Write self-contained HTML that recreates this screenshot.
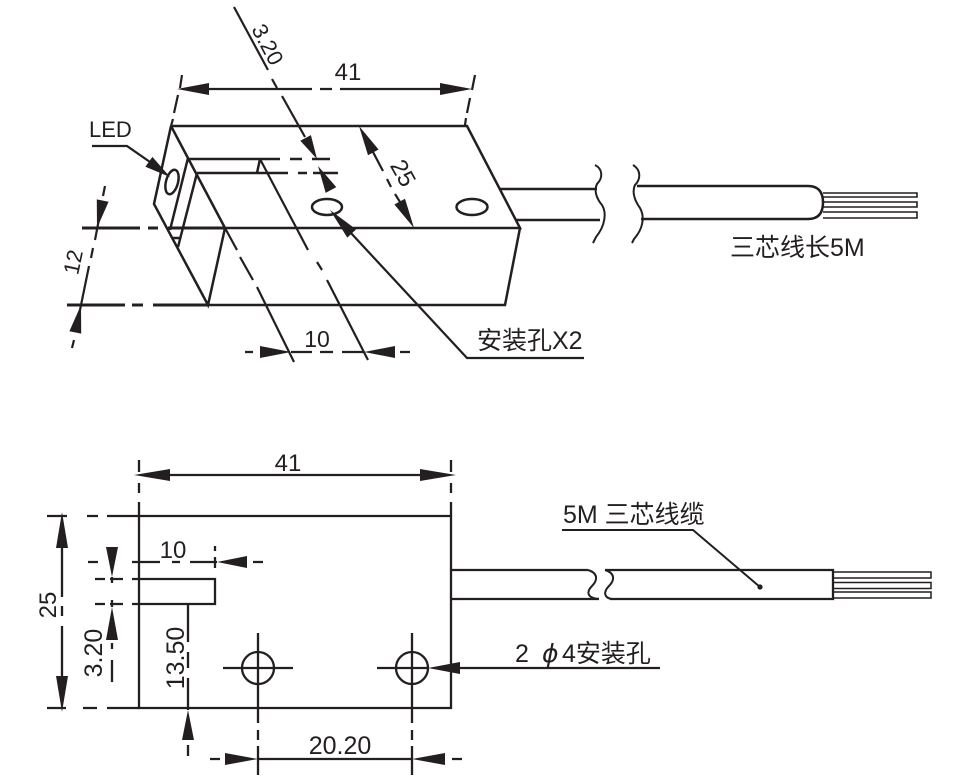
<!DOCTYPE html>
<html><head><meta charset="utf-8"><style>
html,body{margin:0;padding:0;background:#fff;}
svg{display:block;}
text{font-family:"Liberation Sans","Noto Sans CJK SC",sans-serif;fill:#231f20;}
</style></head><body>
<svg width="959" height="780" viewBox="0 0 959 780" xmlns="http://www.w3.org/2000/svg">
<rect x="0" y="0" width="959" height="780" fill="#fff"/>
<g stroke="#231f20" stroke-width="2.5" fill="none" stroke-linecap="butt" stroke-linejoin="miter">
  <!-- ===== TOP OBLIQUE VIEW ===== -->
  <!-- box outline -->
  <path d="M171,126 L467,126 L520,228 L225,228"/>
  <path d="M171,126 L225,228"/>
  <path d="M171,126 L154,204 L208,305 L225,228"/>
  <path d="M208,305 L505,305 L520,228"/>
  <!-- 12 extension lines -->
  <path d="M82,228 L140,228 M148,228 L158,228 M168,228 L225,228" stroke-width="3"/>
  <path d="M67,305 L125,305 M132,305 L143,305 M153,305 L208,305" stroke-width="3"/>
  <!-- notch in end face -->
  <path d="M188,158 L170,230 M197,173 L178,247 M173,238 L180,238"/>
  <!-- slot lines -->
  <path d="M188,159 L280,159 M290,159 L302,159 M312,159 L330,159"/>
  <path d="M197,173 L288,173 M298,173 L307,173 M313,173 L338,173"/>
  <path d="M260,159 L257,173"/>
  <!-- slanted center/extension lines -->
  <path d="M260,159 L308,250 M317,262 L322,270 M327,280 L368,360" stroke-width="2.2"/>
  <path d="M225,228 L237,250 M240,257 L253,280 M257,287 L294,362" stroke-width="2.2"/>
  <!-- LED -->
  <ellipse cx="172" cy="182" rx="6" ry="12.5" transform="rotate(15 172 182)"/>
  <!-- holes -->
  <ellipse cx="327" cy="207" rx="15" ry="8"/>
  <ellipse cx="472" cy="207" rx="15.5" ry="8"/>
  <!-- 41 dim top -->
  <path d="M209,89 L312,89 M320,89 L332,89 M340,89 L440,89" stroke-width="2.2"/>
  <path d="M182,75 L180,88 M178,95 L174,113 M173,119 L171,126" stroke-width="2.2"/>
  <path d="M475,75 L472,90 M470,98 L467,113 M466,118 L465,125" stroke-width="2.2"/>
  <!-- 3.20 dim top -->
  <path d="M234,7 L268,70 M272,79 L277,88 M282,96 L305,137" stroke-width="2.2"/>
  <!-- 25 dim -->
  <path d="M373,152 L383,171 M387,179 L391,187 M395,194 L400,202" stroke-width="2.2"/>
  <!-- 12 dim -->
  <path d="M105,186 L103,196 M102.5,201 L95,240 M93,248 L91,258 M89,266 L75.5,332 M74,340 L72,348" stroke-width="2.2"/>
  <!-- 10 dim top -->
  <path d="M245,352 L253,352 M291,352 L312,352 M320,352 L333,352 M342,352 L364,352 M400,352 L410,352" stroke-width="2.2"/>
  <!-- LED leader -->
  <path d="M92,146 L127,146 L150,162" stroke-width="2.2"/>
  <!-- mounting hole leader -->
  <path d="M584,358 L467,358 L350,232" stroke-width="2.2"/>
  <!-- cable (top) -->
  <path d="M500,189 L597,189 M515,220 L600,220"/>
  <path d="M595,165 C603,169 603,178 597,184 C594,190 596,198 602,205 C607,213 605,226 596,237 L593,243" stroke-width="2"/>
  <path d="M633,165 C641,170 641,179 635,185 C632,191 634,200 640,208 C645,217 643,229 634,239 L632,243" stroke-width="2"/>
  <path d="M637,186 L808,186 Q823,186 823,202.5 Q823,219 808,219 L641,219"/>
  <path d="M823,193 L917,193 L917,197 L823,197 M823,202 L917,202 L917,207 L823,207 M823,212 L917,212 L917,218 L823,218" stroke-width="1.6"/>

  <!-- ===== BOTTOM TOP-VIEW ===== -->
  <path d="M139,516 L451,516 L451,708 L139,708 Z" stroke-width="2.3"/>
  <path d="M47,516 L67,516 M87,516 L98,516 M107,516 L139,516" stroke-width="2.3"/>
  <path d="M47,708 L66,708 M83,708 L97,708 M107,708 L139,708" stroke-width="2.3"/>
  <path d="M139,460 L139,472 M139,483 L139,493 M139,502 L139,516" stroke-width="2.3"/>
  <path d="M451,460 L451,472 M451,483 L451,493 M451,502 L451,516" stroke-width="2.3"/>
  <!-- 41 dim -->
  <path d="M170,475 L420,475" stroke-width="2.3"/>
  <!-- 25 dim -->
  <path d="M62,548 L62,597 M62,606 L62,616 M62,626 L62,676" stroke-width="2.3"/>
  <!-- slot -->
  <path d="M132,579 L215,579 L215,604 L132,604" stroke-width="2.3"/>
  <path d="M95,579 L105,579 M110,579 L123,579 M95,604 L105,604 M110,604 L123,604" stroke-width="2.3"/>
  <!-- 10 dim -->
  <path d="M88,562 L98,562 M132,562 L160,562 M172,562 L180,562 M190,562 L217,562 M253,562 L263,562" stroke-width="2.3"/>
  <path d="M215,546 L215,551 M215,557 L215,568" stroke-width="2.3"/>
  <!-- 3.20 dim -->
  <path d="M112,577 L112,583 M112,600 L112,607 M112,643 L112,649 M112,660 L112,682" stroke-width="2.3"/>
  <!-- 13.50 dim -->
  <path d="M188,604 L188,642 M188,652 L188,668 M188,678 L188,710 M188,745 L188,756" stroke-width="2.3"/>
  <!-- holes -->
  <circle cx="258" cy="668" r="16" stroke-width="2.3"/>
  <circle cx="412" cy="668" r="16" stroke-width="2.3"/>
  <path d="M223,668 L293,668 M258,633 L258,723 M258,730 L258,740 M258,746 L258,775" stroke-width="2.3"/>
  <path d="M377,668 L428,668 M412,633 L412,723 M412,730 L412,740 M412,746 L412,775" stroke-width="2.3"/>
  <path d="M460,668 L660,668" stroke-width="2.3"/>
  <!-- 20.20 dim -->
  <path d="M210,759 L220,759 M258,759 L412,759 M452,759 L462,759" stroke-width="2.3"/>
  <!-- cable bottom -->
  <path d="M451,570 L588,570 M451,599 L599,599" stroke-width="2.3"/>
  <path d="M588,570 C598,573 598,580 592,586 C586,592 587,598 599,599" stroke-width="2"/>
  <path d="M605,570 C615,573 615,580 609,586 C603,592 604,598 612,599" stroke-width="2"/>
  <path d="M605,570 L833,570 L833,599 L610,599" stroke-width="2.3"/>
  <path d="M833,572 L931,572 L931,578 L833,578 M833,582.5 L931,582.5 L931,588.5 L833,588.5 M833,592 L931,592 L931,598 L833,598" stroke-width="1.5"/>
  <!-- cable leader -->
  <path d="M562,530 L693,530 L760,587" stroke-width="2"/>
</g>

<!-- arrowheads -->
<g fill="#231f20" stroke="none">
  <polygon points="177,89 209,83 209,95"/>
  <polygon points="472,89 440,83 440,95"/>
  <polygon points="317,159 310.9,135.1 300.3,140.7"/>
  <polygon points="318,166 336.3,187.1 325.7,192.9"/>
  <polygon points="359,126 378.6,149.5 368,155.3"/>
  <polygon points="414,228 405,198.7 394.4,204.5"/>
  <polygon points="97,228 108.6,201.8 96.8,199.4"/>
  <polygon points="81,305 81.2,333.6 69.4,331.2"/>
  <polygon points="291,352 260,346 260,358"/>
  <polygon points="364,352 395,346 395,358"/>
  <polygon points="170,177 145.4,166.7 152.4,156.9"/>
  <polygon points="330,210 356.1,229.4 347.3,237.6"/>

  <polygon points="134,475 170,469 170,481"/>
  <polygon points="456,475 420,469 420,481"/>
  <polygon points="62,512 56,548 68,548"/>
  <polygon points="62,712 56,676 68,676"/>
  <polygon points="112,577 106,547 118,547"/>
  <polygon points="112,607 106,640 118,640"/>
  <polygon points="217,562 247,556 247,568"/>
  <polygon points="188,710 182,740 194,740"/>
  <polygon points="258,759 225,753 225,765"/>
  <polygon points="412,759 445,753 445,765"/>
  <polygon points="428,668 460,662 460,674"/>
  <circle cx="760" cy="587" r="2.6"/>
</g>

<!-- texts top -->
<text x="89" y="137" font-size="22">LED</text>
<text x="348" y="80" font-size="24" text-anchor="middle">41</text>
<text x="261" y="48" font-size="22" text-anchor="middle" transform="rotate(62 261 48)">3.20</text>
<text x="396" y="177" font-size="24" text-anchor="middle" transform="rotate(61 396 177)">25</text>
<text x="80.5" y="263.6" font-size="22" text-anchor="middle" transform="rotate(-78 80.5 263.6)">12</text>
<text x="317" y="347" font-size="23" text-anchor="middle">10</text>
<text x="477" y="349" font-size="25">安装孔X2</text>
<text x="730" y="256" font-size="25">三芯线长5M</text>

<!-- texts bottom -->
<text x="288" y="471" font-size="24" text-anchor="middle">41</text>
<text x="56" y="605" font-size="24" text-anchor="middle" transform="rotate(-90 56 605)">25</text>
<text x="173" y="558" font-size="24" text-anchor="middle">10</text>
<text x="102" y="653" font-size="25" text-anchor="middle" transform="rotate(-90 102 653)">3.20</text>
<text x="184" y="658" font-size="25" text-anchor="middle" transform="rotate(-90 184 658)">13.50</text>
<text x="340" y="754" font-size="25" text-anchor="middle">20.20</text>
<text x="563" y="523" font-size="25">5M 三芯线缆</text>
<text x="515" y="662" font-size="25">2</text>
<text x="542" y="662" font-size="25" style="font-family:'DejaVu Sans','Liberation Sans',sans-serif;font-style:italic">ϕ</text>
<text x="562" y="662" font-size="25">4安装孔</text>
</svg>
</body></html>
